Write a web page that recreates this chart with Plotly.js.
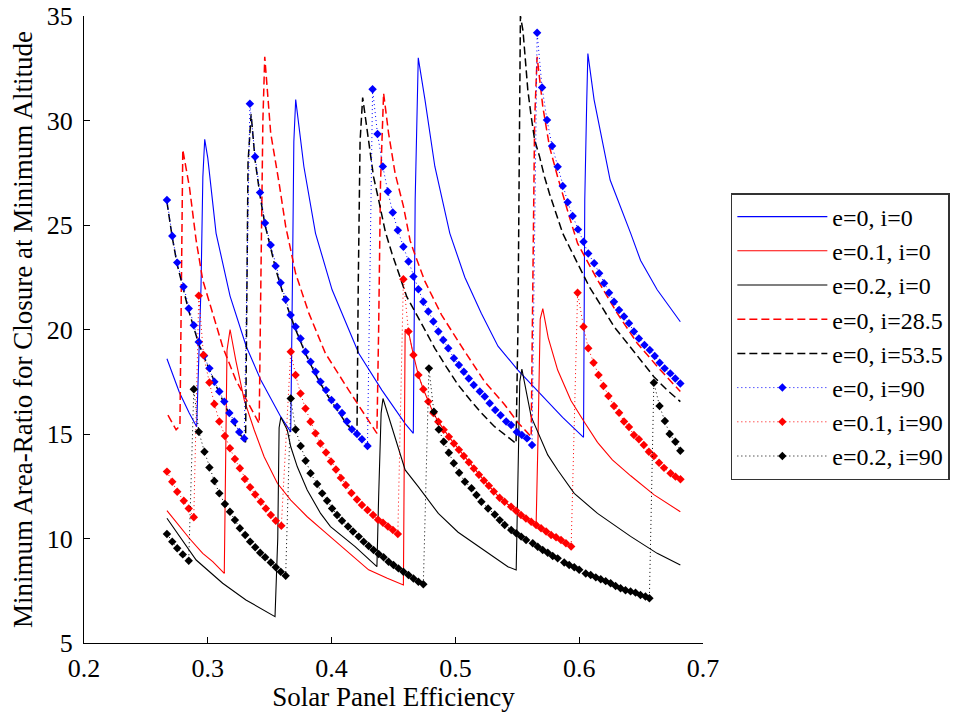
<!DOCTYPE html>
<html>
<head>
<meta charset="utf-8">
<script src="https://cdn.plot.ly/plotly-3.0.1.min.js"></script>
<style>html,body{margin:0;padding:0;background:#fff;}</style>
</head>
<body>
<div id="chart" style="width:962px;height:712px;"></div>
<script>
// ---- Data ----
const seriesNames = ["e=0, i=0", "e=0.1, i=0", "e=0.2, i=0", "e=0, i=28.5", "e=0, i=53.5", "e=0, i=90", "e=0.1, i=90", "e=0.2, i=90"];

const x_e0_i0 = [0.267,0.277,0.285,0.291,0.2945,0.296,0.2975,0.300,0.3067,0.318,0.331,0.3428,0.3589,0.367,0.3685,0.3695,0.371,0.3776,0.387,0.4004,0.4219,0.4406,0.4594,0.466,0.4675,0.469,0.470,0.4754,0.4834,0.4955,0.5076,0.521,0.5344,0.5505,0.569,0.5866,0.6035,0.6045,0.606,0.607,0.612,0.625,0.6416,0.6496,0.663,0.6817];
const y_e0_i0 = [18.6,17.0,16.0,15.35,22.0,27.3,29.1,28.2,24.6,21.6,19.2,17.58,15.83,15.1,23.0,29.0,31.0,27.8,24.6,21.9,18.86,17.1,15.5,15.03,26.2,30.7,33.0,31.0,27.8,24.6,22.5,20.77,19.2,18.06,16.9,15.8,14.84,26.2,30.7,33.2,31.0,27.15,24.6,23.3,21.9,20.37];

const x_e01_i0 = [0.267,0.2772,0.2852,0.2959,0.304,0.3133,0.3145,0.3155,0.318,0.3227,0.3294,0.3375,0.3455,0.3562,0.367,0.3803,0.3937,0.41,0.4299,0.445,0.458,0.4594,0.4621,0.4661,0.4701,0.4741,0.4781,0.4822,0.4862,0.4905,0.4947,0.4988,0.5028,0.5068,0.5109,0.5149,0.519,0.523,0.527,0.531,0.5357,0.5397,0.545,0.549,0.553,0.557,0.5612,0.5652,0.5668,0.5685,0.5706,0.575,0.5826,0.5933,0.604,0.6148,0.6268,0.6416,0.6603,0.6817];
const y_e01_i0 = [11.33,10.56,10.0,9.29,8.89,8.33,14.0,19.0,20.0,18.5,16.63,15.19,13.91,12.64,11.84,11.04,10.35,9.5,8.5,8.1,7.78,20.0,19.9,18.78,17.82,17.14,16.55,16.0,15.59,15.2,14.87,14.55,14.25,13.95,13.65,13.35,13.05,12.78,12.52,12.25,11.95,11.76,11.52,11.33,11.12,10.96,10.8,10.65,15.0,20.5,21.0,19.6,18.06,16.6,15.59,14.6,13.76,13.0,12.1,11.28];

const x_e02_i0 = [0.267,0.2772,0.2906,0.312,0.3308,0.3543,0.3565,0.3576,0.359,0.3642,0.367,0.3723,0.3803,0.3911,0.3991,0.419,0.4366,0.438,0.440,0.4415,0.446,0.4513,0.4594,0.47,0.4862,0.5022,0.5264,0.5424,0.5491,0.5505,0.552,0.5537,0.5612,0.5746,0.5826,0.596,0.6148,0.6415,0.663,0.6817];
const y_e02_i0 = [10.97,10.1,8.97,7.86,7.06,6.26,10.0,15.3,15.8,15.19,14.39,13.43,12.32,11.2,10.57,9.61,8.65,12.0,16.0,16.7,15.83,14.87,13.28,12.48,11.2,10.3,9.29,8.65,8.49,13.0,17.5,18.1,15.83,14.0,13.28,12.16,11.2,10.1,9.29,8.73];

const x_e0_i285 = [0.2678,0.2744,0.2775,0.279,0.2798,0.2852,0.2906,0.2959,0.3039,0.312,0.3227,0.3361,0.3415,0.3428,0.3445,0.346,0.3508,0.3576,0.363,0.367,0.3709,0.3817,0.395,0.4138,0.4366,0.438,0.4395,0.442,0.446,0.4513,0.458,0.4634,0.466,0.4754,0.4888,0.5048,0.5237,0.5398,0.5505,0.5612,0.5625,0.564,0.566,0.5706,0.576,0.5826,0.592,0.5987,0.6148,0.6308,0.6469,0.6656,0.6817];
const y_e0_i285 = [15.9,15.2,15.4,26.0,28.6,26.8,24.26,22.37,20.77,19.18,17.58,16.15,15.5,22.0,30.0,33.05,29.4,27.0,24.9,23.8,22.69,20.77,18.86,17.1,15.03,20.0,27.0,31.3,29.4,27.47,25.9,24.26,23.8,22.3,20.7,19.2,17.5,16.4,15.55,14.87,22.0,30.0,33.05,30.66,28.75,27.3,25.4,24.12,22.37,20.77,19.34,18.06,17.03];

const x_e0_i535 = [0.267,0.2713,0.2753,0.2804,0.2846,0.2927,0.3013,0.3093,0.3174,0.3254,0.3305,0.3315,0.3325,0.335,0.3382,0.3422,0.3462,0.3508,0.3548,0.3629,0.3709,0.3789,0.387,0.3955,0.4044,0.4124,0.419,0.4205,0.4215,0.423,0.4251,0.4272,0.4299,0.4339,0.438,0.4433,0.4487,0.454,0.4607,0.4674,0.4754,0.4834,0.4928,0.5022,0.5117,0.521,0.5317,0.5424,0.549,0.5505,0.5515,0.5525,0.5546,0.556,0.5585,0.5612,0.564,0.568,0.572,0.576,0.5813,0.5867,0.592,0.6001,0.6081,0.6174,0.6282,0.6389,0.6496,0.6603,0.671,0.6817];
const y_e0_i535 = [26.1,24.4,23.1,21.95,20.9,19.3,18.05,16.95,15.95,15.05,14.6,20.0,28.0,30.3,28.1,26.4,25.0,23.9,22.9,21.3,20.0,18.85,17.85,16.95,16.15,15.45,15.05,14.95,22.0,29.0,31.1,30.2,29.07,27.3,26.2,24.7,23.65,22.69,21.57,20.85,20.0,19.1,18.2,17.35,16.65,16.0,15.35,14.87,14.55,20.0,30.0,35.0,34.3,33.2,31.46,30.2,29.07,28.27,27.3,26.5,25.55,24.6,23.96,23.0,22.05,21.17,20.13,19.34,18.54,17.74,17.1,16.55];

const x_e0_i90 = [0.267,0.2713,0.2753,0.2804,0.2846,0.2887,0.2927,0.297,0.3013,0.3053,0.3093,0.3133,0.3174,0.3214,0.3254,0.3294,
  0.334,0.3382,0.3422,0.3462,0.3508,0.3548,0.3588,0.3629,0.3669,0.3709,0.3749,0.3789,0.383,0.387,0.391,0.3955,0.3999,0.4044,0.4084,0.4124,0.4164,0.4205,0.4245,0.429,
  0.4331,0.4371,0.4414,0.4454,0.4494,0.4535,0.458,0.4621,0.4661,0.4701,0.4741,0.4781,0.4822,0.4862,0.4902,0.4942,0.4988,0.5028,0.5068,0.5108,0.5148,0.5197,0.5237,0.5277,0.5322,0.5365,0.541,0.545,0.5496,0.5537,0.5578,0.5619,
  0.566,0.57,0.574,0.5781,0.5826,0.5867,0.5907,0.5947,0.599,0.6035,0.6073,0.6121,0.6161,0.6201,0.6241,0.6281,0.6322,0.6362,0.6402,0.6442,0.6482,0.6527,0.657,0.661,0.665,0.669,0.6736,0.6776,0.6817];
const y_e0_i90 = [26.2,24.47,23.2,22.05,21.0,20.2,19.4,18.75,18.14,17.5,17.03,16.55,16.0,15.6,15.1,14.79,
  30.8,28.27,26.55,25.1,24.04,23.04,22.24,21.44,20.69,20.13,19.57,18.94,18.46,17.98,17.5,17.1,16.63,16.3,16.0,15.6,15.23,15.0,14.75,14.43,
  31.5,29.35,27.8,26.6,25.6,24.75,23.96,23.25,22.53,21.93,21.33,20.86,20.38,19.9,19.5,19.1,18.62,18.3,17.98,17.66,17.34,17.03,16.79,16.47,16.15,15.9,15.6,15.43,15.1,14.95,14.79,14.47,
  34.2,31.58,30.02,28.78,27.79,26.87,26.09,25.43,24.79,24.2,23.64,23.17,22.69,22.21,21.76,21.33,20.93,20.62,20.3,19.9,19.57,19.26,19.02,18.73,18.41,18.14,17.9,17.66,17.42];

const x_e01_i90 = [0.267,0.2713,0.2753,0.2806,0.2846,0.2887,
  0.2927,0.2965,0.3013,0.3053,0.3093,0.3138,0.3179,0.3219,0.3259,0.3299,0.3342,0.3383,0.3428,0.3469,0.3509,0.3549,0.3594,
  0.367,0.3709,0.3749,0.3789,0.383,0.387,0.391,0.3955,0.3995,0.4035,0.4075,0.4115,0.416,0.4205,0.4245,0.429,0.4335,0.4375,0.4415,0.4455,0.4495,0.4535,
  0.458,0.4621,0.4661,0.4701,0.4741,0.4781,0.4822,0.4862,0.4905,0.4947,0.4988,0.5028,0.5068,0.5109,0.5149,0.519,0.523,0.527,0.531,0.5357,0.5397,0.545,0.549,0.553,0.557,0.5612,0.5652,0.5692,0.5733,0.5773,0.5813,0.5853,0.5893,0.5935,
  0.5987,0.6035,0.6073,0.6116,0.6156,0.6196,0.6236,0.6281,0.6322,0.6362,0.6402,0.6442,0.6482,0.6522,0.6563,0.6603,0.6645,0.6685,0.6738,0.6778,0.6818];
const y_e01_i90 = [13.2,12.72,12.24,11.81,11.44,11.02,
  21.62,18.78,17.46,16.44,15.6,14.9,14.32,13.8,13.36,12.85,12.45,12.11,11.76,11.44,11.12,10.85,10.61,
  18.94,17.82,16.94,16.22,15.59,15.03,14.55,14.11,13.68,13.3,12.9,12.56,12.18,11.87,11.6,11.36,11.12,10.9,10.75,10.57,10.41,10.22,
  22.4,19.9,18.78,17.82,17.14,16.55,16.0,15.59,15.2,14.87,14.55,14.25,13.95,13.65,13.35,13.05,12.78,12.52,12.25,11.95,11.76,11.52,11.33,11.12,10.96,10.8,10.65,10.49,10.33,10.17,10.06,9.93,9.77,9.62,
  21.76,20.13,19.1,18.41,17.82,17.3,16.82,16.34,16.02,15.6,15.33,14.95,14.75,14.47,14.15,13.95,13.62,13.38,13.12,12.96,12.83];

const x_e02_i90 = [0.267,0.2713,0.2753,0.2798,0.2846,
  0.2887,0.2927,0.2973,0.3013,0.3053,0.3093,0.3138,0.3179,0.3219,0.3259,0.3302,0.3342,0.3383,0.3423,0.3463,0.3509,0.3549,0.3589,0.3629,
  0.367,0.3709,0.375,0.379,0.383,0.3883,0.3924,0.3964,0.4004,0.4044,0.4084,0.4133,0.4173,0.4219,0.4259,0.4299,0.4339,0.438,0.442,0.446,0.45,0.454,0.458,0.4621,0.4661,0.4701,0.4741,
  0.4786,0.4826,0.4866,0.4906,0.4947,0.4987,0.503,0.5077,0.513,0.517,0.521,0.5264,0.5318,0.5358,0.5398,0.5451,0.5491,0.5531,0.5571,0.5625,0.5665,0.5705,0.5746,0.5786,0.5826,0.5879,0.5919,0.596,0.6,0.6053,0.6093,0.6134,0.6174,0.6214,0.6254,0.6294,0.6334,0.6374,0.6415,0.6455,0.6495,0.6535,0.6567,
  0.6603,0.6649,0.6692,0.6731,0.6777,0.6817];
const y_e02_i90 = [10.22,9.85,9.53,9.24,8.94,
  17.14,15.11,14.15,13.4,12.75,12.16,11.65,11.28,10.89,10.49,10.17,9.85,9.58,9.32,9.1,8.85,8.62,8.41,8.22,
  16.7,15.22,14.43,13.72,13.12,12.61,12.16,11.81,11.44,11.12,10.85,10.57,10.33,10.09,9.85,9.64,9.45,9.26,9.1,8.89,8.73,8.57,8.41,8.25,8.09,7.93,7.81,
  18.14,16.07,15.22,14.63,14.1,13.6,13.15,12.72,12.4,12.08,11.76,11.44,11.15,10.88,10.65,10.41,10.25,10.09,9.93,9.77,9.61,9.45,9.32,9.16,9.05,8.85,8.73,8.62,8.5,8.33,8.25,8.14,8.05,7.96,7.86,7.73,7.62,7.52,7.47,7.41,7.3,7.22,7.14,
  17.45,16.34,15.62,15.0,14.63,14.2];

const xTickVals = [0.2, 0.3, 0.4, 0.5, 0.6, 0.7];
const xTickText = ["0.2", "0.3", "0.4", "0.5", "0.6", "0.7"];
const yTickVals = [5, 10, 15, 20, 25, 30, 35];
const yTickText = ["5", "10", "15", "20", "25", "30", "35"];

// ---- Styles ----
const BLUE = "rgb(0,0,255)", RED = "rgb(255,0,0)", BLACK = "rgb(0,0,0)";
const DASH = "8px,4px", DOT = "1px,3px";

function lineTrace(name, x, y, color, dash, width) {
  return {type: "scatter", mode: "lines", name: name, x: x, y: y,
          line: {color: color, width: width, dash: dash}, hoverinfo: "skip"};
}
function markTrace(name, x, y, color) {
  return {type: "scatter", mode: "lines+markers", name: name, x: x, y: y,
          line: {color: color, width: 1, dash: DOT},
          marker: {symbol: "diamond", size: 6.5, color: color, line: {width: 0}}, hoverinfo: "skip"};
}

const traces = [
  lineTrace(seriesNames[0], x_e0_i0, y_e0_i0, BLUE, "solid", 1.1),
  lineTrace(seriesNames[1], x_e01_i0, y_e01_i0, RED, "solid", 1.1),
  lineTrace(seriesNames[2], x_e02_i0, y_e02_i0, BLACK, "solid", 1.1),
  lineTrace(seriesNames[3], x_e0_i285, y_e0_i285, RED, DASH, 1.5),
  lineTrace(seriesNames[4], x_e0_i535, y_e0_i535, BLACK, DASH, 1.5),
  markTrace(seriesNames[5], x_e0_i90, y_e0_i90, BLUE),
  markTrace(seriesNames[6], x_e01_i90, y_e01_i90, RED),
  markTrace(seriesNames[7], x_e02_i90, y_e02_i90, BLACK)
];

const FONT = "Liberation Serif, Times New Roman, Times, serif";
const layout = {
  width: 962, height: 712,
  margin: {l: 84, r: 256, t: 16, b: 69, pad: 0},
  paper_bgcolor: "#ffffff", plot_bgcolor: "#ffffff",
  font: {family: FONT, size: 26, color: "#000"},
  showlegend: true,
  xaxis: {
    range: [0.2, 0.7], tickvals: xTickVals, ticktext: xTickText,
    ticks: "inside", ticklen: 6, tickwidth: 1, tickcolor: "#000",
    showline: true, linecolor: "#000", linewidth: 1, mirror: false,
    showgrid: false, zeroline: false, fixedrange: true,
    tickfont: {family: FONT, size: 26, color: "#000"},
    ticklabelstandoff: 2,
    title: {text: "Solar Panel Efficiency", font: {family: FONT, size: 27, color: "#000"}, standoff: 6}
  },
  yaxis: {
    range: [5, 35], tickvals: yTickVals, ticktext: yTickText,
    ticks: "inside", ticklen: 6, tickwidth: 1, tickcolor: "#000",
    showline: true, linecolor: "#000", linewidth: 1, mirror: false,
    showgrid: false, zeroline: false, fixedrange: true,
    tickfont: {family: FONT, size: 26, color: "#000"},
    ticklabelstandoff: 5,
    title: {text: "Minimum Area-Ratio for Closure at Minimum Altitude", font: {family: FONT, size: 27, color: "#000"}, standoff: 6}
  },
  legend: {
    x: 1.045, y: 0.7177, xanchor: "left", yanchor: "top",
    bgcolor: "#ffffff", bordercolor: "#333", borderwidth: 1.5,
    font: {family: FONT, size: 24, color: "#000"},
    itemwidth: 90, tracegroupgap: 0
  }
};

Plotly.newPlot("chart", traces, layout, {staticPlot: true, displayModeBar: false});
</script>
</body>
</html>
